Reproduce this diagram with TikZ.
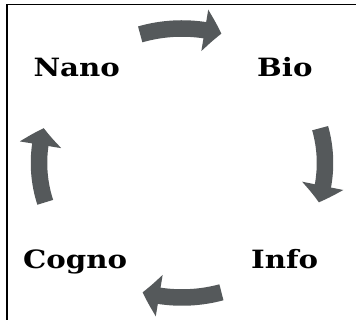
\documentclass[tikz,border=0pt]{standalone}
\usepackage{fontspec}
\usetikzlibrary{arrows.meta,calc,bending}
\newfontfamily\lblfont{DejaVu Serif}
\definecolor{arrowgray}{RGB}{85,89,91}
\newcommand{\widetext}[1]{\scalebox{1.16}[1]{#1}}
\tikzset{
  cyclearrow/.style={draw=arrowgray, line width=16.5pt, line cap=butt,
    -{Triangle[length=17pt,width=41pt,bend]}},
  label/.style={inner sep=0pt, font=\lblfont\bfseries\fontsize{25.2}{30}\selectfont, text=black},
  frameline/.style={line width=1.6pt, black}
}
\begin{document}
\begin{tikzpicture}[x=1pt,y=1pt]
\useasboundingbox (0,0) rectangle (356,320);
\draw[frameline] (356,315.5) -- (7,315.5) -- (7,0);
\coordinate (c) at (182,157);
% labels
\node[label, anchor=base west] (nano) at (33.3,243.3) {\widetext{Nano}};
\node[label, anchor=base west] (bio) at (257,243.3) {\widetext{Bio}};
\node[label, anchor=base west] (cogno) at (23,51.7) {\widetext{Cogno}};
\node[label, anchor=base west] (info) at (251,51.7) {\widetext{Info}};
% arrows
\draw[cyclearrow] ($(c)+(107:143 and 134.5)$) arc[start angle=107, end angle=74, x radius=143, y radius=134.5];
\draw[cyclearrow] ($(c)+(15:143 and 134.5)$) arc[start angle=15, end angle=-17, x radius=143, y radius=134.5];
\draw[cyclearrow] ($(c)+(-74:143 and 134.5)$) arc[start angle=-74, end angle=-106, x radius=143, y radius=134.5];
\draw[cyclearrow] ($(c)+(197:143 and 134.5)$) arc[start angle=197, end angle=165, x radius=143, y radius=134.5];
\end{tikzpicture}
\end{document}
